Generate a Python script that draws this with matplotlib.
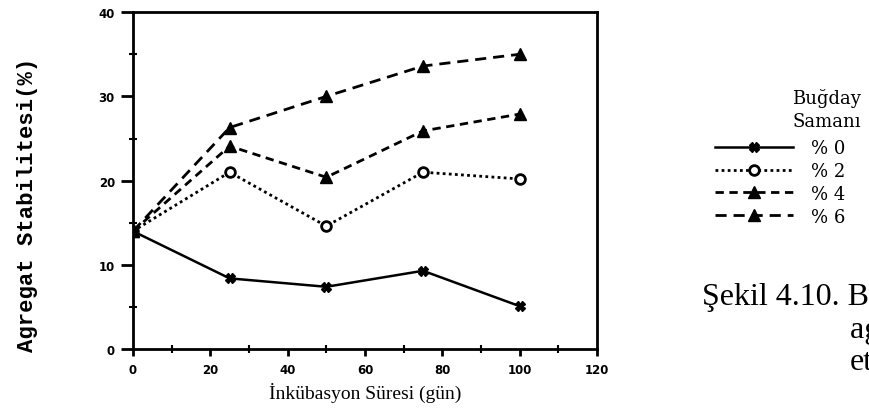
"""
Agregat stabilitesi - inkübasyon süresi grafiği
"""

import matplotlib
matplotlib.use('Agg')
import matplotlib.pyplot as plt
from matplotlib.ticker import MultipleLocator

# Veriler
gun = [0, 25, 50, 75, 100]
saman_0 = [14.0, 8.4, 7.4, 9.3, 5.1]
saman_2 = [14.0, 21.0, 14.6, 21.0, 20.2]
saman_4 = [14.0, 24.1, 20.4, 25.9, 27.9]
saman_6 = [14.0, 26.3, 30.0, 33.6, 35.0]
etiketler = ['% 0', '% 2', '% 4', '% 6']

fig = plt.figure(figsize=(8.69, 4.10), dpi=100)
ax = fig.add_axes([0.153, 0.146, 0.534, 0.822])

ax.plot(gun, saman_0, color='black', linestyle='-', linewidth=1.8,
        marker='X', markersize=7, label=etiketler[0])
ax.plot(gun, saman_2, color='black', linestyle=(0, (1, 1.2)), linewidth=2,
        marker='o', markersize=7, markerfacecolor='white', markeredgewidth=2,
        label=etiketler[1])
ax.plot(gun, saman_4, color='black', linestyle=(0, (3, 2)), linewidth=2,
        marker='^', markersize=8, label=etiketler[2])
ax.plot(gun, saman_6, color='black', linestyle=(0, (4, 2.5)), linewidth=2,
        marker='^', markersize=8, label=etiketler[3])

ax.set_xlim(0, 120)
ax.set_ylim(0, 40)
ax.xaxis.set_major_locator(MultipleLocator(20))
ax.xaxis.set_minor_locator(MultipleLocator(10))
ax.yaxis.set_major_locator(MultipleLocator(10))
ax.yaxis.set_minor_locator(MultipleLocator(5))
ax.tick_params(axis='y', which='major', direction='out', length=9, width=2, pad=4)
ax.tick_params(axis='x', which='major', direction='out', length=5, width=2, pad=5)
ax.tick_params(which='minor', direction='inout', length=6, width=1.5)
for lab in ax.get_xticklabels() + ax.get_yticklabels():
    lab.set_fontsize(8.5)
    lab.set_fontweight('bold')
for s in ax.spines.values():
    s.set_linewidth(2)

ax.set_xlabel('İnkübasyon Süresi (gün)', family='Liberation Serif', fontsize=14)
ax.set_ylabel('Agregat Stabilitesi(%)', family='Liberation Mono',
              fontsize=16, fontweight='bold')
ax.yaxis.set_label_coords(-0.204, 0.43)

# lejant
fig.text(792 / 869, 1 - 98 / 410, 'Buğday', family='DejaVu Serif', fontsize=13,
         va='center')
fig.text(792 / 869, 1 - 122 / 410, 'Samanı', family='DejaVu Serif', fontsize=13,
         va='center')
leg = ax.legend(loc='upper left', bbox_to_anchor=(715 / 869, 1 - 140 / 410),
                bbox_transform=fig.transFigure, frameon=False,
                handlelength=4.3, handletextpad=1.0, labelspacing=0.27,
                borderpad=0, borderaxespad=0,
                prop={'family': 'DejaVu Serif', 'size': 13})

# şekil başlığı
fig.text(702 / 869, 1 - 305 / 410, 'Şekil 4.10. Buğday samanının',
         family='Liberation Serif', fontsize=23, va='baseline')
fig.text(850 / 869, 1 - 338 / 410, 'agregat stabilitesi üzerine',
         family='Liberation Serif', fontsize=23, va='baseline')
fig.text(850 / 869, 1 - 370 / 410, 'etkisi', family='Liberation Serif',
         fontsize=23, va='baseline')

plt.savefig('out.png', dpi=100)
